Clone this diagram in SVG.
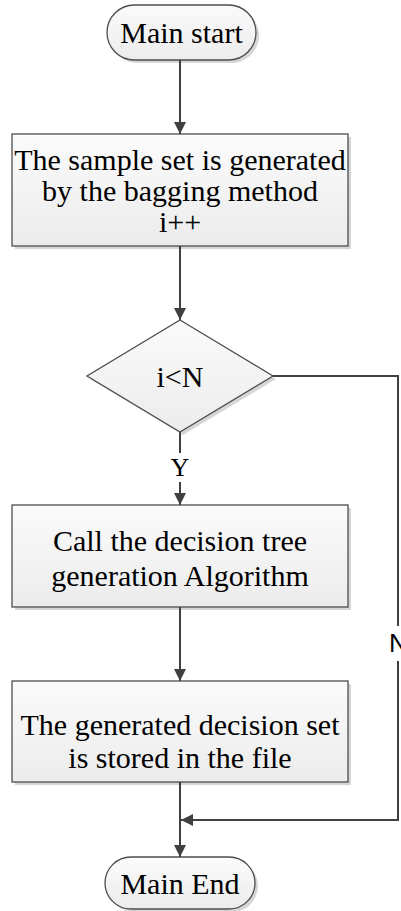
<svg xmlns="http://www.w3.org/2000/svg" width="401" height="911" viewBox="0 0 401 911">
  <style>
    .shape { fill: url(#fillGrad); stroke: #4d4d4d; stroke-width: 1.3; }
    .shadow { fill: #d6d6d6; stroke: none; }
    .label { font-family: "Liberation Serif", "Times New Roman", Times, serif; font-size: 30px; fill: #000; text-anchor: middle; }
    .edge { fill: none; stroke: #404040; stroke-width: 2; }
    .tag-n { font-family: "Liberation Sans", Arial, sans-serif; font-size: 26px; fill: #000; }
  </style>
  <defs>
    <linearGradient id="fillGrad" x1="0" y1="0" x2="0" y2="1">
      <stop offset="0" stop-color="#fbfbfb"/>
      <stop offset="1" stop-color="#ececec"/>
    </linearGradient>
    <marker id="arrow" viewBox="0 0 12 12" refX="12" refY="6" markerWidth="12" markerHeight="12" markerUnits="userSpaceOnUse" orient="auto">
      <path d="M0,0 L12,6 L0,12 Z" fill="#404040"/>
    </marker>
  </defs>

  <rect width="401" height="911" fill="#ffffff"/>

  <!-- start terminator -->
  <g id="node-start">
    <rect class="shadow" x="110" y="8" width="149" height="55" rx="27.5"/>
    <rect class="shape" x="107" y="5" width="149" height="55" rx="27.5"/>
    <text class="label" x="181.5" y="43">Main start</text>
  </g>

  <!-- sampling step -->
  <g id="node-sample">
    <rect class="shadow" x="15" y="137" width="336" height="112"/>
    <rect class="shape" x="12" y="134" width="336" height="112"/>
    <text class="label" x="180" y="170">The sample set is generated</text>
    <text class="label" x="180" y="201">by the bagging method</text>
    <text class="label" x="180" y="232">i++</text>
  </g>

  <!-- loop test -->
  <g id="node-test">
    <polygon class="shadow" points="183,323 276,379 183,435 90,379"/>
    <polygon class="shape" points="180,320 273,376 180,432 87,376"/>
    <text class="label" x="180" y="387">i&lt;N</text>
  </g>

  <!-- tree building step -->
  <g id="node-tree">
    <rect class="shadow" x="15" y="508" width="336" height="102"/>
    <rect class="shape" x="12" y="505" width="336" height="102"/>
    <text class="label" x="180" y="551">Call the decision tree</text>
    <text class="label" x="180" y="586">generation Algorithm</text>
  </g>

  <!-- storing step -->
  <g id="node-store">
    <rect class="shadow" x="15" y="684" width="336" height="101"/>
    <rect class="shape" x="12" y="681" width="336" height="101"/>
    <text class="label" x="180" y="735">The generated decision set</text>
    <text class="label" x="180" y="768">is stored in the file</text>
  </g>

  <!-- end terminator -->
  <g id="node-end">
    <rect class="shadow" x="108" y="860" width="150" height="52" rx="26"/>
    <rect class="shape" x="105" y="857" width="150" height="52" rx="26"/>
    <text class="label" x="180" y="894">Main End</text>
  </g>

  <!-- connectors -->
  <g id="connectors">
    <line class="edge" x1="180" y1="60" x2="180" y2="134" marker-end="url(#arrow)"/>
    <line class="edge" x1="180" y1="246" x2="180" y2="320" marker-end="url(#arrow)"/>
    <line class="edge" x1="180" y1="432" x2="180" y2="453"/>
    <text class="label" x="180" y="476" style="font-size:26px">Y</text>
    <line class="edge" x1="180" y1="482" x2="180" y2="505" marker-end="url(#arrow)"/>
    <line class="edge" x1="180" y1="607" x2="180" y2="681" marker-end="url(#arrow)"/>
    <line class="edge" x1="180" y1="782" x2="180" y2="857" marker-end="url(#arrow)"/>
    <polyline class="edge" points="273,376 398,376 398,626"/>
    <text class="tag-n" x="389" y="652">N</text>
    <polyline class="edge" points="398,661 398,820 181,820" marker-end="url(#arrow)"/>
  </g>
</svg>
